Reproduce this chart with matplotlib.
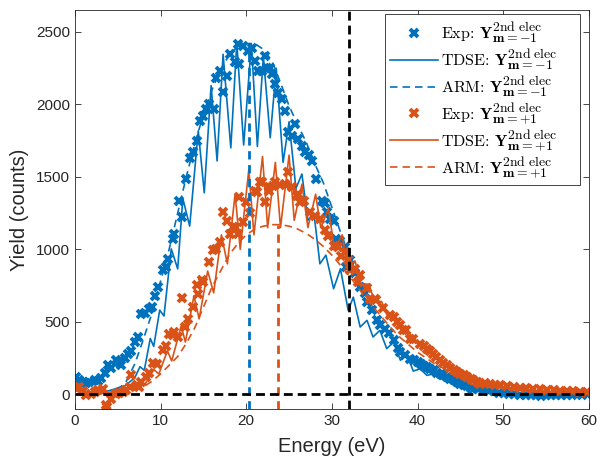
import matplotlib
matplotlib.use("Agg")
import matplotlib.pyplot as plt
import matplotlib._mathtext as _mathtext
import numpy as np

BLUE = "#0072BD"
ORANGE = "#D95319"

# ---- experiment, m = -1 (blue) ----
exp_m1_E = [0.1, 0.5, 0.9, 1.3, 1.7, 2.3, 2.7, 3.1, 3.5, 3.9, 4.2, 4.8, 5.1, 5.4, 5.8, 6.2,
             6.6, 7.0, 7.4, 7.7, 8.2, 8.6, 9.0, 9.4, 9.75, 10.3, 10.6, 10.9, 11.4, 11.6, 12.2,
             12.5, 13.0, 13.4, 13.8, 14.2, 14.6, 15.0, 15.3, 15.7, 16.2, 16.5, 16.9, 17.3, 17.7,
             18.1, 18.7, 19.0, 19.2, 19.6, 20.2, 20.7, 21.0, 21.4, 21.8, 22.2, 22.4, 22.8, 23.0,
             23.3, 23.7, 24.2, 24.5, 24.9, 25.3, 25.7, 26.1, 26.5, 26.9, 27.3, 27.7, 28.2, 28.8,
             29.2, 29.4, 29.8, 30.2, 30.5, 30.9, 31.5, 31.7, 32.1, 32.7, 33.3, 33.9, 34.1, 34.7,
             35.3, 35.6, 36.2, 36.7, 37.2, 37.7, 38.0, 38.5, 39.1, 39.6, 40.0, 40.4, 40.8, 41.1,
             41.5, 41.9, 42.3, 42.7, 43.0, 43.4, 43.8, 44.2, 44.6, 45.0, 45.4, 45.8, 46.2, 46.5,
             47.0, 47.7, 48.3, 48.9, 49.5, 50.1, 50.7, 51.3, 52.0, 52.6, 53.2, 53.8, 54.4, 55.0,
             55.6, 56.2, 56.8, 57.4, 58.0, 58.6, 59.2, 59.8]
exp_m1_Y = [119, 95, 85, 80, 85, 96, 90, 112, 150, 200, 179, 234, 220, 200, 250, 280,
             300, 360, 395, 556, 560, 590, 601, 680, 739, 859, 880, 934, 1072, 1107, 1336,
             1221, 1486, 1630, 1669, 1750, 1887, 1921, 1968, 2002, 1968, 2185, 2231, 2084, 2197,
             2350, 2290, 2415, 2276, 2403, 2369, 2392, 2300, 2231, 2231, 2335, 2254, 2254, 2208,
             2139, 2082, 2036, 1956, 1810, 1784, 1864, 1761, 1715, 1670, 1650, 1610, 1486, 1336,
             1320, 1256, 1210, 1198, 1072, 1055, 1015, 877, 923, 840, 740, 700, 640, 579,
             510, 475, 452, 420, 372, 320, 291, 269, 240, 234, 220, 211, 195, 188,
             175, 165, 150, 143, 130, 119, 105, 96, 85, 74, 65, 55, 45, 39,
             33, 28, 22, 20, 12, 8, 5, 0, -5, -3, -8, -5, -10, -5,
             -8, -5, -3, -5, -2, 0, -3, 0]

# ---- experiment, m = +1 (orange) ----
exp_p1_E = [0.1, 0.5, 0.9, 1.3, 1.9, 2.3, 2.7, 3.3, 3.6, 3.8, 4.2, 4.8, 5.2, 5.6, 6.0, 6.4,
             6.6, 7.2, 7.5, 7.7, 8.3, 8.7, 9.1, 9.6, 10.3, 10.6, 11.0, 11.4, 11.6, 12.0, 12.5,
             12.8, 13.2, 13.8, 14.2, 14.4, 14.8, 15.0, 15.7, 16.1, 16.5, 16.9, 17.3, 17.7, 18.1,
             18.5, 18.7, 19.0, 19.2, 19.6, 20.0, 20.4, 21.0, 21.2, 21.6, 21.8, 22.2, 22.6, 22.7,
             23.1, 23.3, 23.9, 24.5, 24.9, 25.3, 25.9, 26.1, 26.3, 26.8, 27.4, 28.0, 28.6, 29.2,
             29.6, 30.2, 30.7, 31.1, 31.5, 31.9, 32.1, 32.7, 33.1, 33.3, 34.1, 34.4, 35.0, 35.2,
             36.0, 36.8, 37.2, 37.6, 38.0, 38.3, 38.7, 39.1, 39.5, 40.3, 40.7, 41.1, 41.5, 41.8,
             42.2, 42.6, 43.0, 43.4, 43.8, 44.2, 44.6, 45.0, 45.4, 45.8, 46.2, 46.5, 46.9, 47.3,
             47.9, 48.5, 49.0, 49.6, 50.4, 51.2, 52.0, 52.7, 53.5, 54.3, 55.1, 55.9, 56.6, 57.4,
             58.2, 59.0, 59.8]
exp_p1_Y = [40, 50, 20, -7, 5, 15, 28, 39, -76, -87, -35, 5, 10, 16, 30, 50,
             131, 62, 50, 85, 119, 150, 216, 211, 303, 330, 418, 406, 429, 395, 665,
             463, 521, 601, 751, 694, 785, 773, 911, 992, 1000, 1049, 1256, 1198, 1107,
             1152, 1152, 1107, 1359, 1187, 1324, 1250, 1405, 1393, 1462, 1462, 1324, 1400, 1428,
             1439, 1462, 1445, 1451, 1531, 1428, 1370, 1382, 1324, 1336, 1256, 1233, 1210, 1130,
             1095, 1026, 1015, 957, 980, 923, 854, 866, 773, 820, 730, 659, 660, 647,
             595, 544, 532, 498, 475, 441, 441, 384, 384, 349, 330, 315, 295, 280,
             255, 234, 215, 200, 180, 165, 152, 143, 130, 119, 105, 96, 85, 74,
             78, 74, 65, 62, 55, 50, 45, 40, 39, 33, 30, 28, 24, 22,
             20, 18, 15]

# ---- TDSE (turning points of the ATI oscillation) ----
tdse_m1_E = [2.5, 3.2, 4.0, 4.6, 5.2, 5.8, 6.4, 7.0, 7.6, 8.1, 8.8, 9.2, 9.9, 10.4, 11.25,
             12.0, 12.6, 13.4, 14.4, 15.1, 15.9, 16.6, 17.3, 18.2, 18.9, 19.7, 20.6, 21.3,
             22.0, 22.8, 23.5, 24.3, 25.0, 25.8, 26.5, 27.2, 27.9, 28.6, 29.3, 30.2, 31.0,
             31.9, 32.5, 33.3, 34.1, 34.8, 35.6, 36.4, 37.2, 38.0, 38.7, 39.5, 40.3, 41.1,
             41.8, 42.6, 43.4, 44.2, 45.0, 45.8, 46.6, 47.4, 48.2, 49.0, 50.0, 51.0, 52.0,
             54.0, 56.0, 60.0]
tdse_m1_Y = [5, 12, 25, 35, 48, 55, 85, 115, 190, 165, 385, 330, 580, 540, 1003,
             865, 1350, 1160, 1818, 1390, 2130, 1610, 2346, 1700, 2426, 1720, 2420, 1710,
             2330, 1770, 2250, 1600, 1880, 1420, 1520, 1200, 1250, 900, 960, 728, 866,
             579, 670, 464, 510, 395, 441, 315, 360, 234, 280, 160, 175, 130,
             140, 105, 110, 80, 85, 60, 62, 40, 42, 25, 22, 12, 10,
             3, 0, 0]

tdse_p1_E = [0.5, 2.0, 3.0, 3.8, 4.6, 5.2, 6.1, 6.7, 7.7, 8.2, 9.2, 9.8, 10.8, 11.3, 12.4,
             12.9, 13.9, 14.5, 15.5, 16.2, 17.1, 17.8, 18.7, 19.3, 20.3, 20.9, 21.9, 22.5,
             23.4, 24.0, 25.0, 25.6, 26.5, 27.2, 28.1, 28.7, 29.6, 30.3, 31.2, 31.8, 32.7,
             33.4, 34.3, 35.0, 35.8, 36.5, 37.4, 38.1, 39.0, 39.7, 40.5, 41.3, 42.1, 42.9,
             43.7, 44.5, 45.3, 46.1, 47.0, 48.0, 49.0, 50.0, 51.0, 52.0, 53.0, 55.0, 57.0,
             60.0]
tdse_p1_Y = [0, 0, 5, 8, 20, 15, 45, 35, 90, 70, 170, 140, 300, 230, 470,
             360, 680, 520, 850, 700, 1100, 900, 1380, 1000, 1550, 1100, 1640, 1150,
             1600, 1150, 1650, 1200, 1450, 1150, 1380, 1150, 1280, 1000, 1100, 880, 920,
             760, 760, 640, 640, 540, 530, 440, 430, 360, 340, 290, 270, 230,
             210, 175, 160, 130, 110, 85, 65, 50, 38, 28, 20, 12, 8,
             5]

# ---- ARM ----
arm_m1_E = [3.5, 5, 6, 7, 8, 9, 10, 11, 12, 13, 14, 15, 16, 17, 18, 19, 20, 21, 22, 23, 24,
            25, 26, 27, 28, 29, 30, 31, 32, 33, 34, 35, 36, 37, 38, 39, 40, 42, 44, 46, 48,
            50, 55, 60]
arm_m1_Y = [0, 30, 90, 210, 380, 560, 780, 1000, 1250, 1500, 1730, 1930, 2100, 2240, 2340,
            2400, 2420, 2420, 2380, 2300, 2150, 1990, 1860, 1740, 1590, 1460, 1290, 1120,
            960, 820, 690, 570, 470, 390, 310, 250, 200, 130, 80, 45, 25, 12, 3, 0]

arm_p1_E = [4, 6, 8, 9, 10, 11, 12, 13, 14, 15, 16, 17, 18, 19, 20, 21, 22, 23, 24, 25, 26,
            27, 28, 29, 30, 31, 32, 33, 34, 35, 36, 37, 38, 39, 40, 42, 44, 46, 48, 50, 52,
            55, 60]
arm_p1_Y = [0, 15, 50, 90, 140, 200, 260, 350, 460, 600, 740, 850, 960, 1040, 1100, 1140,
            1160, 1170, 1170, 1160, 1140, 1110, 1070, 1020, 960, 890, 820, 740, 660, 590,
            520, 450, 390, 340, 290, 210, 150, 100, 65, 42, 25, 12, 3]

# mean energies (ARM) and marker line
mean_m1 = 20.35
mean_p1 = 23.7
cutoff = 32.0

plt.rcParams["mathtext.fontset"] = "cm"
plt.rcParams["font.family"] = ["Liberation Sans", "DejaVu Sans"]
plt.rcParams["axes.unicode_minus"] = False
# LaTeX-like legend: sub/superscripts a little larger than mathtext's default
_mathtext.SHRINK_FACTOR = 0.85

fig = plt.figure(figsize=(6.04, 4.65), dpi=100)
ax = fig.add_axes([0.124, 0.121, 0.851, 0.857])

Y_M1 = r"$\mathbf{Y}^{\mathrm{2nd\ elec}}_{\mathbf{m=-1}}$    "
Y_P1 = r"$\mathbf{Y}^{\mathrm{2nd\ elec}}_{\mathbf{m=+1}}$    "

mk = dict(linestyle="none", marker="x", markersize=5.5, markeredgewidth=2.8)
ax.plot(exp_m1_E, exp_m1_Y, color=BLUE, label="Exp: " + Y_M1, **mk)
ax.plot(tdse_m1_E, tdse_m1_Y, color=BLUE, linewidth=1.2, label="TDSE: " + Y_M1)
ax.plot(arm_m1_E, arm_m1_Y, color=BLUE, linewidth=1.2, dashes=(4.5, 3.0), label="ARM: " + Y_M1)
ax.plot(exp_p1_E, exp_p1_Y, color=ORANGE, label="Exp: " + Y_P1, **mk)
ax.plot(tdse_p1_E, tdse_p1_Y, color=ORANGE, linewidth=1.2, label="TDSE: " + Y_P1)
ax.plot(arm_p1_E, arm_p1_Y, color=ORANGE, linewidth=1.2, dashes=(4.5, 3.0), label="ARM: " + Y_P1)

# vertical markers at the ARM mean energies, up to the ARM curve
ax.plot([mean_m1, mean_m1], [-100, np.interp(mean_m1, arm_m1_E, arm_m1_Y)],
        color=BLUE, linewidth=2.0, dashes=(3.0, 2.0))
ax.plot([mean_p1, mean_p1], [-100, np.interp(mean_p1, arm_p1_E, arm_p1_Y)],
        color=ORANGE, linewidth=2.0, dashes=(3.0, 2.0))
ax.axhline(0, color="black", linewidth=2.0, dashes=(3.2, 1.8))
ax.axvline(cutoff, color="black", linewidth=2.0, dashes=(3.2, 1.8))

ax.set_xlim(0, 60)
ax.set_ylim(-100, 2650)
ax.set_xticks(range(0, 61, 10))
ax.set_yticks(range(0, 2501, 500))
ax.tick_params(direction="in", top=True, right=True, labelsize=11, length=4,
               width=0.6, colors="#262626")
for s in ax.spines.values():
    s.set_color("#262626")
    s.set_linewidth(0.6)
ax.set_xlabel("Energy (eV)", fontsize=14.5, color="#262626", labelpad=7)
ax.set_ylabel("Yield (counts)", fontsize=14.5, color="#262626", labelpad=5)

leg = ax.legend(loc="upper right", bbox_to_anchor=(0.9825, 0.99),
                prop={"family": "cmr10", "size": 11.6},
                handlelength=3.0, handletextpad=0.2, labelspacing=0.1, borderpad=0.3,
                borderaxespad=0.0, fancybox=False, framealpha=1)
leg.get_frame().set_edgecolor("#262626")
leg.get_frame().set_linewidth(0.6)

fig.savefig("out.png", dpi=100)
